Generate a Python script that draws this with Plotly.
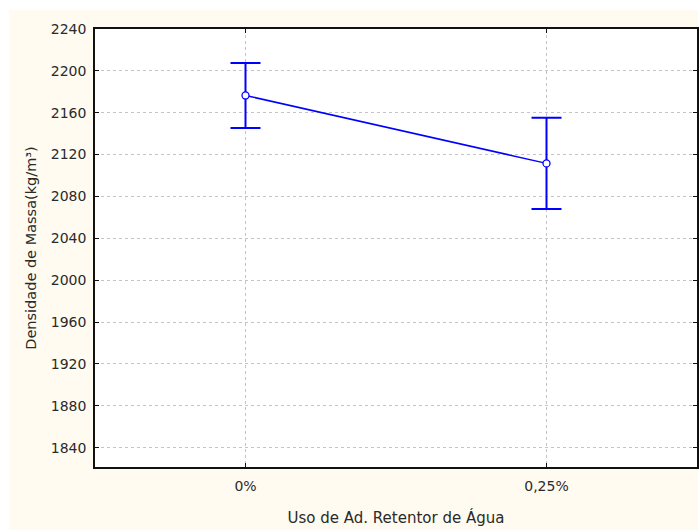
import plotly.graph_objects as go

# Mean bulk density with confidence interval per additive level
categories = ["0%", "0,25%"]
means = [2176.5, 2111.6]
errors = [31.0, 43.5]

y_ticks = [1840, 1880, 1920, 1960, 2000, 2040, 2080, 2120, 2160, 2200, 2240]

FONT = "DejaVu Sans"
BLUE = "#0000FF"
CREAM = "#FFFBF0"
TEXT = "#2a2a2a"

fig = go.Figure()
fig.add_trace(go.Scatter(
    x=[0, 1],
    y=means,
    mode="lines+markers",
    line=dict(color=BLUE, width=1.5),
    marker=dict(symbol="circle", size=7, color="white",
                line=dict(color=BLUE, width=1.3)),
    error_y=dict(type="data", array=errors, visible=True,
                 color=BLUE, thickness=2, width=15),
    showlegend=False,
))

L, R, T, B = 95, 1, 29, 64
W, H = 700, 531
pw, ph = W - L - R, H - T - B

def px_x(p):
    return (p - L) / pw

def px_y(p):
    return (H - B - p) / ph

fig.update_layout(
    width=W, height=H,
    margin=dict(l=L, r=R, t=T, b=B, pad=0),
    paper_bgcolor="white",
    plot_bgcolor="rgba(0,0,0,0)",
    font=dict(family=FONT, size=13, color=TEXT),
    shapes=[
        dict(type="rect", xref="paper", yref="paper", layer="below",
             x0=px_x(9), x1=px_x(700), y0=px_y(530), y1=px_y(10),
             fillcolor=CREAM, line=dict(width=0)),
        dict(type="rect", xref="paper", yref="paper", layer="below",
             x0=0, x1=1, y0=0, y1=1,
             fillcolor="white", line=dict(width=0)),
    ],
)

fig.update_xaxes(
    range=[-0.5, 1.5],
    tickmode="array", tickvals=[0, 1], ticktext=categories,
    showgrid=True, gridcolor="#c4c4c4", griddash="dot", gridwidth=1,
    showline=True, linecolor="#111", linewidth=1.5, mirror="ticks",
    ticks="inside", ticklen=4, tickcolor="#111",
    ticklabelstandoff=5,
    zeroline=False,
    tickfont=dict(family=FONT, size=14, color=TEXT),
    title=dict(text="Uso de Ad. Retentor de Água", standoff=20,
               font=dict(family=FONT, size=15, color=TEXT)),
)

fig.update_yaxes(
    range=[1821.5, 2240],
    tickmode="array", tickvals=y_ticks,
    showgrid=True, gridcolor="#c4c4c4", griddash="dot", gridwidth=1,
    showline=True, linecolor="#111", linewidth=1.5, mirror="ticks",
    ticks="inside", ticklen=4, tickcolor="#111",
    ticklabelstandoff=4,
    zeroline=False,
    tickfont=dict(family=FONT, size=14, color=TEXT),
    title=dict(text="Densidade de Massa(kg/m³)", standoff=11,
               font=dict(family=FONT, size=14.5, color=TEXT)),
)

fig.write_html("out.html")
